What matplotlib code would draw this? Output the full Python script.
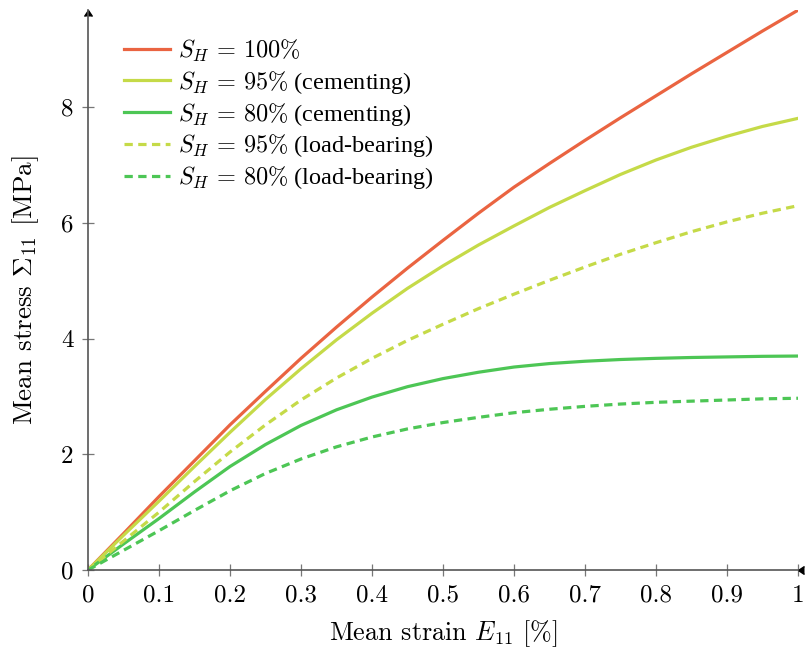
import matplotlib
matplotlib.use('Agg')
import matplotlib.pyplot as plt

# values
strain = [0, 0.05, 0.1, 0.15, 0.2, 0.25, 0.3, 0.35, 0.4, 0.45, 0.5,
          0.55, 0.6, 0.65, 0.7, 0.75, 0.8, 0.85, 0.9, 0.95, 1.0]
sh100 = [0, 0.63, 1.27, 1.89, 2.51, 3.09, 3.66, 4.20, 4.72, 5.22, 5.70,
         6.17, 6.62, 7.03, 7.43, 7.82, 8.20, 8.58, 8.95, 9.32, 9.68]
sh95_cem = [0, 0.60, 1.19, 1.79, 2.38, 2.95, 3.48, 3.98, 4.44, 4.87, 5.26,
            5.62, 5.95, 6.27, 6.56, 6.84, 7.09, 7.31, 7.50, 7.67, 7.81]
sh80_cem = [0, 0.45, 0.89, 1.35, 1.79, 2.17, 2.50, 2.77, 2.99, 3.17, 3.31,
            3.42, 3.51, 3.57, 3.61, 3.64, 3.66, 3.675, 3.685, 3.695, 3.70]
sh95_lb = [0, 0.50, 1.00, 1.53, 2.04, 2.51, 2.94, 3.32, 3.66, 3.97, 4.25,
           4.52, 4.77, 5.01, 5.24, 5.46, 5.66, 5.85, 6.02, 6.17, 6.30]
sh80_lb = [0, 0.34, 0.68, 1.03, 1.37, 1.67, 1.92, 2.13, 2.30, 2.44, 2.55,
           2.64, 2.72, 2.78, 2.83, 2.87, 2.90, 2.92, 2.94, 2.96, 2.97]

x_ticks = [0, 0.1, 0.2, 0.3, 0.4, 0.5, 0.6, 0.7, 0.8, 0.9, 1.0]
x_tick_labels = ['0', '0.1', '0.2', '0.3', '0.4', '0.5', '0.6', '0.7', '0.8', '0.9', '1']
y_ticks = [0, 2, 4, 6, 8]

RED = '#EA6441'
YELLOW = '#C5DA48'
GREEN = '#4DC655'

plt.rcParams['mathtext.fontset'] = 'cm'
plt.rcParams['font.family'] = 'cmr10'
plt.rcParams['axes.formatter.use_mathtext'] = True

fig = plt.figure(figsize=(8.05, 6.54), dpi=100)
ax = fig.add_axes([0.1093, 0.1284, 0.882, 0.856])

lw = 2.3
dash = (2.6, 1.7)
ax.plot(strain, sh100, color=RED, lw=lw, label=r'$S_H\,=\,100\%$')
ax.plot(strain, sh95_cem, color=YELLOW, lw=lw, label=r'$S_H\,=\,95\%$ (cementing)')
ax.plot(strain, sh80_cem, color=GREEN, lw=lw, label=r'$S_H\,=\,80\%$ (cementing)')
ax.plot(strain, sh95_lb, color=YELLOW, lw=lw, dashes=dash, label=r'$S_H\,=\,95\%$ (load-bearing)')
ax.plot(strain, sh80_lb, color=GREEN, lw=lw, dashes=dash, label=r'$S_H\,=\,80\%$ (load-bearing)')

ax.set_xlim(0, 1)
ax.set_ylim(0, 9.68)
ax.set_xticks(x_ticks)
ax.set_xticklabels(x_tick_labels)
ax.set_yticks(y_ticks)
ax.set_yticklabels([str(v) for v in y_ticks])

for s in ['top', 'right']:
    ax.spines[s].set_visible(False)
for s in ['left', 'bottom']:
    ax.spines[s].set_color('#555555')
    ax.spines[s].set_linewidth(1.2)
ax.tick_params(direction='inout', length=9, width=0.9, color='#777777',
               labelsize=18, pad=6)

# arrow heads at the end of the axes
ax.plot(1, 0, marker=4, color='black', ms=6, transform=ax.get_yaxis_transform(), clip_on=False)
ax.plot(0, 1, marker=6, color='black', ms=6, transform=ax.get_xaxis_transform(), clip_on=False)

ax.set_xlabel(r'Mean strain $E_{11}$ $[\%]$', fontsize=18.8, labelpad=8)
ax.set_ylabel(r'Mean stress $\Sigma_{11}$ $[\mathrm{MPa}]$', fontsize=19.5, labelpad=14)

leg = ax.legend(loc='upper left', bbox_to_anchor=(0.02, 0.99), frameon=False,
                prop={'family': 'Liberation Serif', 'size': 17.5},
                handlelength=1.9, handletextpad=0.3, labelspacing=0.2)

fig.savefig('out.png', dpi=100)
